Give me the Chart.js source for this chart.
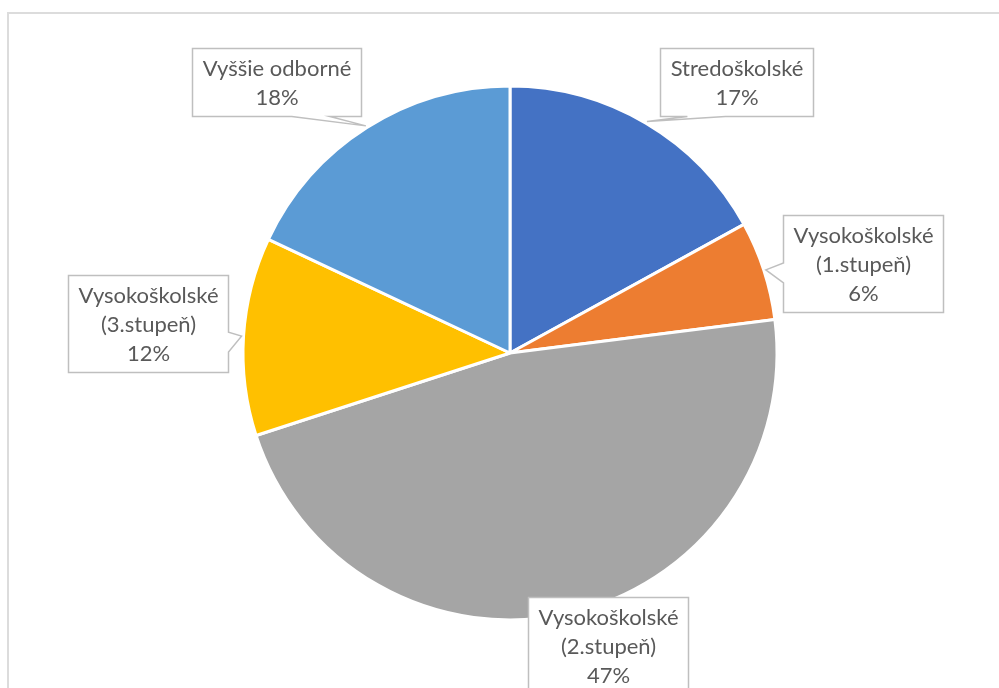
<!DOCTYPE html>
<html>
<head>
<meta charset="utf-8">
<script src="https://cdn.jsdelivr.net/npm/chart.js@4.4.1/dist/chart.umd.min.js"></script>
<style>
  body { margin: 0; background: #fff; overflow: hidden; }
  #wrap { position: relative; width: 999px; height: 688px; }
  #frame { position: absolute; left: 7px; top: 12px; width: 1100px; height: 800px; border: 2px solid #dcdcdc; }
  #chart_edu { position: absolute; left: 0; top: 0; }
</style>
</head>
<body>
<div id="wrap">
  <div id="frame"></div>
  <canvas id="chart_edu" width="999" height="688"></canvas>
</div>
<script>
// vzdelanie - podiel v %
var categories = ["Stredoškolské", "Vysokoškolské\n(1.stupeň)", "Vysokoškolské\n(2.stupeň)", "Vysokoškolské\n(3.stupeň)", "Vyššie odborné"];
var shares = [17, 6, 47, 12, 18];
var colors = ["#4472C4", "#ED7D31", "#A5A5A5", "#FFC000", "#5B9BD5"];

// where each callout box sits, relative to pie centre, in units of the radius
var calloutPos = [[0.85, -1.015], [1.322, -0.337], [0.367, 1.097], [-1.356, -0.112], [-0.876, -1.015]];

var FONT = '22px Lato, "Open Sans", sans-serif';
var LINE_H = 29;

var callouts = {
  id: 'callouts',
  afterDatasetsDraw: function (chart) {
    var ctx = chart.ctx;
    var meta = chart.getDatasetMeta(0);
    var total = shares.reduce(function (a, b) { return a + b; }, 0);
    ctx.save();
    ctx.font = FONT;
    meta.data.forEach(function (arc, i) {
      var p = arc.getProps(['x', 'y', 'startAngle', 'endAngle', 'outerRadius'], true);
      var mid = (p.startAngle + p.endAngle) / 2;
      var r = p.outerRadius;
      var tip = { x: p.x + Math.cos(mid) * (r + 2), y: p.y + Math.sin(mid) * (r + 2) };

      var lines = categories[i].split("\n");
      lines.push(Math.round(shares[i] / total * 100) + "%");
      var tw = 0;
      lines.forEach(function (l) { tw = Math.max(tw, ctx.measureText(l).width); });
      var w = Math.round(tw + 20), h = lines.length * LINE_H + 10;
      var cx = p.x + calloutPos[i][0] * r, cy = p.y + calloutPos[i][1] * r;
      var L = Math.round(cx - w / 2) + 0.5, T = Math.round(cy - h / 2) + 0.5, R = L + w, B = T + h;

      // box outline, with a wedge pointing at the slice when the tip is outside
      var pts = [[L, T], [R, T], [R, B], [L, B]];
      var wedge = null;
      if (tip.y > B + 2) {
        var c = Math.min(Math.max(tip.x, L + 0.3 * w), R - 0.3 * w);
        wedge = { at: 2, pts: [[c + 19, B], [tip.x, tip.y], [c - 19, B]] };
      } else if (tip.x > R + 2) {
        var c2 = Math.min(Math.max(tip.y + 6, T + 0.3 * h), B - 0.3 * h);
        wedge = { at: 1, pts: [[R, c2 - 10], [tip.x, tip.y], [R, c2 + 10]] };
      } else if (tip.x < L - 2) {
        var c3 = Math.min(Math.max(tip.y + 3, T + 0.3 * h), B - 0.3 * h);
        wedge = { at: 3, pts: [[L, c3 + 10], [tip.x, tip.y], [L, c3 - 10]] };
      }
      var path = [];
      for (var k = 0; k < 4; k++) {
        path.push(pts[k]);
        if (wedge && wedge.at === k) path = path.concat(wedge.pts);
      }
      ctx.beginPath();
      path.forEach(function (pt, j) { if (j) ctx.lineTo(pt[0], pt[1]); else ctx.moveTo(pt[0], pt[1]); });
      ctx.closePath();
      ctx.fillStyle = "#ffffff";
      ctx.fill();
      ctx.lineWidth = 1.5;
      ctx.strokeStyle = "#bfbfbf";
      ctx.stroke();

      ctx.fillStyle = "#595959";
      ctx.textAlign = "center";
      ctx.textBaseline = "middle";
      lines.forEach(function (l, j) {
        ctx.fillText(l, (L + R) / 2, T + 5 + LINE_H * (j + 0.5) + 1);
      });
    });
    ctx.restore();
  }
};

var ctx = document.getElementById("chart_edu").getContext('2d');
var chart = new Chart(ctx, {
  type: "pie",
  data: {
    labels: categories,
    datasets: [{ data: shares, backgroundColor: colors, borderColor: "#ffffff", borderWidth: 3 }]
  },
  options: {
    responsive: false,
    animation: false,
    layout: { padding: { left: 241.5, right: 220.5, top: 84.5, bottom: 66.5 } },
    plugins: { legend: { display: false }, tooltip: { enabled: false } }
  },
  plugins: [callouts]
});
</script>
</body>
</html>
